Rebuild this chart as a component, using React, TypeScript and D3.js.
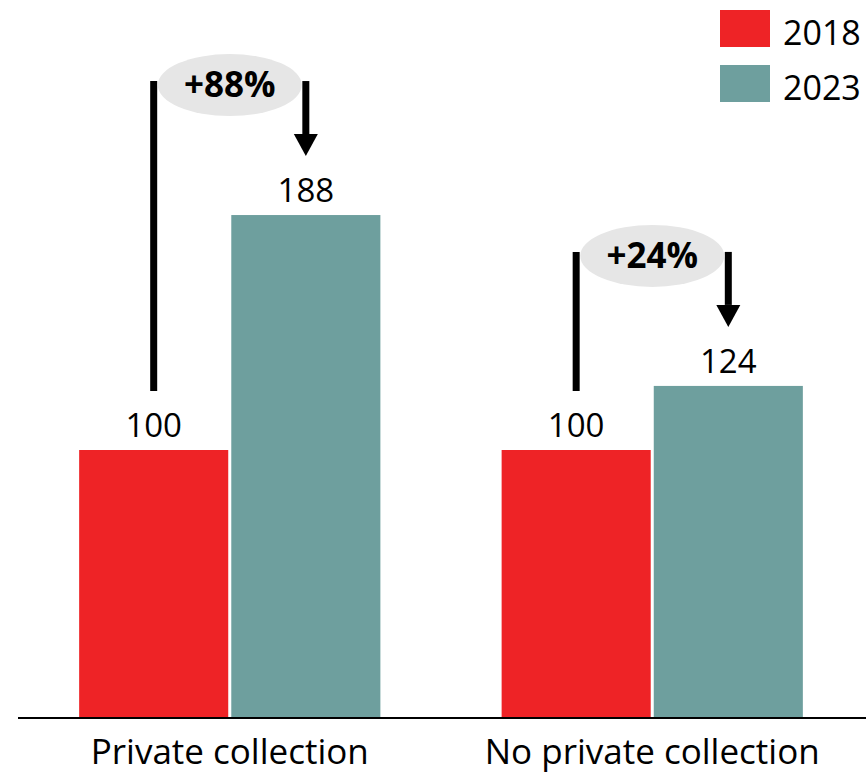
import React from "react";
import * as d3 from "d3";

const categories = ["Private collection", "No private collection"];
const years = ["2018", "2023"];
const values2018 = [100, 100];
const values2023 = [188, 124];
const changeLabels = ["+88%", "+24%"];
const colors = ["#EE2326", "#6E9F9E"];

const W = 866;
const H = 775;
const FONT = "'Open Sans', 'Noto Sans', sans-serif";

export default function App() {
  const baseY = 717;
  const x0 = d3.scaleBand<string>().domain(categories).range([20, 862]).paddingInner(0.287).paddingOuter(0.14);
  const x1 = d3.scaleBand<string>().domain(years).range([0, x0.bandwidth()]).paddingInner(0.02);
  const y = d3.scaleLinear().domain([0, 100]).range([baseY, 450]);

  const rows = categories.map((c, i) => ({ c, v: [values2018[i], values2023[i]], label: changeLabels[i] }));

  return (
    <svg width={W} height={H} style={{ position: "absolute", left: 0, top: 0, background: "#fff" }} fontFamily={FONT}>
      {rows.map((r) => {
        const gx = x0(r.c)!;
        const cx = gx + x0.bandwidth() / 2;
        const xa = gx + x1(years[0])! + x1.bandwidth() / 2;
        const xb = gx + x1(years[1])! + x1.bandwidth() / 2;
        const topY = y(d3.max(r.v)!) - 134;
        const lowBottom = y(r.v[0]) - 59;
        const tipY = y(r.v[1]) - 59;
        return (
          <g key={r.c}>
            {r.v.map((v, j) => (
              <g key={j}>
                <rect x={gx + x1(years[j])!} y={y(v)} width={x1.bandwidth()} height={baseY - y(v)} fill={colors[j]} />
                <text x={gx + x1(years[j])! + x1.bandwidth() / 2} y={y(v) - 13} textAnchor="middle" fontSize={33} fill="#000">
                  {v}
                </text>
              </g>
            ))}
            <line x1={xa} x2={xa} y1={topY} y2={lowBottom} stroke="#000" strokeWidth={7} />
            <line x1={xb} x2={xb} y1={topY} y2={tipY - 22} stroke="#000" strokeWidth={7} />
            <path d={`M${xb - 12},${tipY - 22} L${xb + 12},${tipY - 22} L${xb},${tipY} Z`} fill="#000" />
            <ellipse cx={cx} cy={topY + 4} rx={72} ry={31} fill="#E6E6E6" />
            <text x={cx} y={topY + 16} textAnchor="middle" fontSize={35} fontWeight="bold" fill="#000">
              {r.label}
            </text>
            <text x={cx} y={764} textAnchor="middle" fontSize={35} fill="#000">
              {r.c}
            </text>
          </g>
        );
      })}
      <line x1={18} x2={866} y1={baseY + 1} y2={baseY + 1} stroke="#000" strokeWidth={2} />
      {years.map((yr, j) => (
        <g key={yr}>
          <rect x={720} y={10 + j * 55} width={50} height={37} fill={colors[j]} />
          <text x={783} y={45 + j * 55} fontSize={34} fill="#000">
            {yr}
          </text>
        </g>
      ))}
    </svg>
  );
}
